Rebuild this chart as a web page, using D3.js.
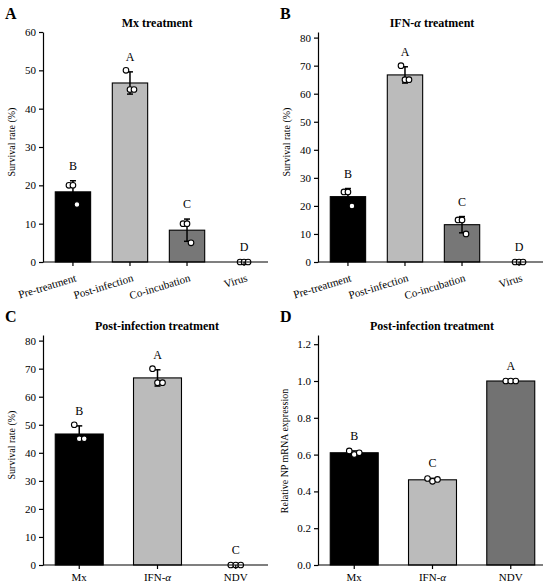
<!DOCTYPE html>
<html><head><meta charset="utf-8">
<script src="https://cdn.jsdelivr.net/npm/d3@7"></script>
<style>body{margin:0;background:#fff}svg{display:block}text{font-family:"Liberation Serif","Times New Roman",serif;fill:#000}</style>
</head><body>
<svg id="c" width="550" height="585"></svg>
<script>
// ---- data ----
const catsA = ["Pre-treatment","Post-infection","Co-incubation","Virus"];
const ptsA = [[20,20,15],[50,45,45],[10,10,5],[0,0,0]];
const meanA = [18.3,46.7,8.3,0];
const sdA = [2.9,2.9,2.9,0];
const letA = ["B","A","C","D"];
const ticksA = [0,10,20,30,40,50,60];

const catsB = ["Pre-treatment","Post-infection","Co-incubation","Virus"];
const ptsB = [[25,25,20],[70,65,65],[15,15,10],[0,0,0]];
const meanB = [23.3,66.7,13.3,0];
const sdB = [2.9,2.9,2.9,0];
const letB = ["B","A","C","D"];
const ticksB = [0,10,20,30,40,50,60,70,80];

const catsC = ["Mx","IFN-α","NDV"];
const ptsC = [[50,45,45],[70,65,65],[0,0,0]];
const meanC = [46.7,66.7,0];
const sdC = [2.9,2.9,0];
const letC = ["B","A","C"];
const ticksC = [0,10,20,30,40,50,60,70,80];

const catsD = ["Mx","IFN-α","NDV"];
const ptsD = [[0.62,0.60,0.61],[0.47,0.455,0.465],[1.0,1.0,1.0]];
const meanD = [0.61,0.463,1.0];
const sdD = [0.01,0.008,0];
const letD = ["B","C","A"];
const ticksD = [0,0.2,0.4,0.6,0.8,1.0,1.2];

const colors4 = ["#000000","#bbbbbb","#777777","#ffffff"];
const colorsC = ["#000000","#bbbbbb","#777777"];
const colorsD = ["#000000","#bbbbbb","#727272"];

const svg = d3.select("#c");

function panel(o){
  const g = svg.append("g").attr("transform",`translate(${o.ox},${o.oy})`);
  const y = d3.scaleLinear().domain([0,o.ymax]).range([262,32]);
  const x = d3.scaleBand().domain(o.cats).range(o.xr).paddingInner(o.pi).paddingOuter(o.po);
  const axX0 = 43, axX1 = 268;
  // bars
  g.selectAll("rect.bar").data(o.cats).enter().append("rect")
    .attr("x",d=>x(d)).attr("width",x.bandwidth())
    .attr("y",(d,i)=>y(o.mean[i])).attr("height",(d,i)=>y(0)-y(o.mean[i]))
    .attr("fill",(d,i)=>o.colors[i]).attr("stroke","#000").attr("stroke-width",1.1);
  // error bars
  const cap = 3;
  o.cats.forEach((c,i)=>{
    const cx = x(c)+x.bandwidth()/2;
    const lo = y(o.mean[i]-o.sd[i]), hi = y(o.mean[i]+o.sd[i]);
    if(o.sd[i]>0){
      g.append("line").attr("x1",cx).attr("x2",cx).attr("y1",lo).attr("y2",hi).attr("stroke","#000").attr("stroke-width",1.5);
      [lo,hi].forEach(v=>g.append("line").attr("x1",cx-cap).attr("x2",cx+cap).attr("y1",v).attr("y2",v).attr("stroke","#000").attr("stroke-width",1.5));
    }
    // points
    o.pts[i].forEach((v,j)=>{
      g.append("circle").attr("cx",cx+o.jit[j]).attr("cy",y(v)).attr("r",2.8)
        .attr("fill","#fff").attr("stroke","#000").attr("stroke-width",1.1);
    });
    // letter
    g.append("text").attr("x",cx).attr("y",y(o.mean[i]+o.sd[i])-o.lgap)
      .attr("text-anchor","middle").style("font-size","12px").text(o.lets[i]);
  });
  // y axis
  const ya = d3.axisLeft(y).tickValues(o.ticks).tickSize(4).tickSizeOuter(0)
    .tickFormat(o.fmt||d3.format("d"));
  const yg = g.append("g").attr("transform",`translate(${axX0},0)`).call(ya);
  yg.selectAll("text").style("font-size","11px").style("font-family","Liberation Serif");
  yg.selectAll("line,path").attr("stroke","#000").attr("stroke-width",1.2);
  // x axis
  const xa = d3.axisBottom(x).tickSize(4).tickSizeOuter(0).tickFormat("");
  const xg = g.append("g").attr("transform",`translate(0,${y(0)})`).call(xa);
  xg.select(".domain").remove();
  xg.selectAll("line").attr("stroke","#000").attr("stroke-width",1.2);
  g.append("line").attr("x1",axX0).attr("x2",axX1).attr("y1",y(0)).attr("y2",y(0)).attr("stroke","#000").attr("stroke-width",1.2);
  // x labels
  o.cats.forEach(c=>{
    const cx = x(c)+x.bandwidth()/2;
    let t;
    if(o.rot){
      t = g.append("text").attr("text-anchor","end")
        .attr("transform",`translate(${cx+4},${y(0)+19}) rotate(-17)`).style("font-size","11px");
    } else {
      t = g.append("text").attr("text-anchor","middle").attr("x",cx).attr("y",y(0)+16).style("font-size","11px");
    }
    const parts = c.split("α");
    if(parts.length>1){
      t.append("tspan").text(parts[0]);
      t.append("tspan").style("font-style","italic").text("α");
      t.append("tspan").text(parts[1]);
    } else t.text(c);
  });
  // y label
  g.append("text").attr("transform",`translate(${o.ylx},${o.yly}) rotate(-90)`)
    .attr("text-anchor","middle").style("font-size","10px").text(o.ylab);
  // title
  const tt = g.append("text").attr("x",157).attr("y",27).attr("text-anchor","middle")
    .style("font-size","12px").style("font-weight","bold");
  const tp = o.title.split("α");
  if(tp.length>1){
    tt.append("tspan").text(tp[0]);
    tt.append("tspan").style("font-style","italic").text("α");
    tt.append("tspan").text(tp[1]);
  } else tt.text(o.title);
  // panel letter
  g.append("text").attr("x",5).attr("y",19).style("font-size","16px").style("font-weight","bold").text(o.tag);
}

panel({ox:0,oy:0,cats:catsA,pts:ptsA,mean:meanA,sd:sdA,lets:letA,ticks:ticksA,ymax:60,
  xr:[45,272],pi:0.38,po:0.18,colors:colors4,jit:[-4,0,4],rot:true,lgap:11,
  ylab:"Survival rate (%)",ylx:15,yly:142,title:"Mx treatment",tag:"A"});
panel({ox:275,oy:0,cats:catsB,pts:ptsB,mean:meanB,sd:sdB,lets:letB,ticks:ticksB,ymax:82,
  xr:[45,272],pi:0.38,po:0.18,colors:colors4,jit:[-4,0,4],rot:true,lgap:11,
  ylab:"Survival rate (%)",ylx:15,yly:142,title:"IFN-α treatment",tag:"B"});
panel({ox:0,oy:303,cats:catsC,pts:ptsC,mean:meanC,sd:sdC,lets:letC,ticks:ticksC,ymax:82,
  xr:[45,270],pi:0.387,po:0.131,colors:colorsC,jit:[-5,0,5],rot:false,lgap:11,
  ylab:"Survival rate (%)",ylx:15,yly:142,title:"Post-infection treatment",tag:"C"});
panel({ox:275,oy:303,cats:catsD,pts:ptsD,mean:meanD,sd:sdD,lets:letD,ticks:ticksD,ymax:1.25,fmt:d3.format(".1f"),
  xr:[45,270],pi:0.387,po:0.131,colors:colorsD,jit:[-5,0,5],rot:false,lgap:11,
  ylab:"Relative NP mRNA expression",ylx:13,yly:148,title:"Post-infection treatment",tag:"D"});
</script>
</body></html>
